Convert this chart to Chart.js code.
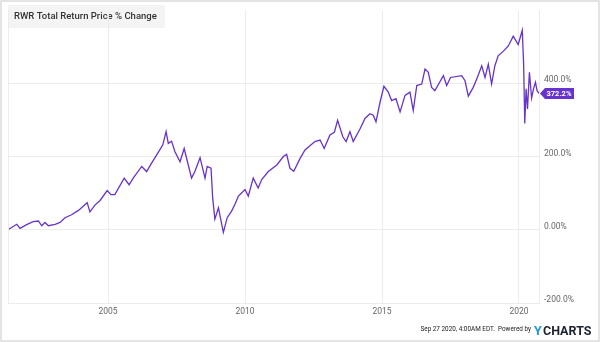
<!DOCTYPE html>
<html lang="en">
<head>
    <meta charset="UTF-8">
    <title>RWR Total Return Price % Change</title>
    <script src="https://cdn.jsdelivr.net/npm/chart.js@4/dist/chart.umd.min.js"></script>
    <style>
        body { margin: 0; background: #fff; }
    </style>
</head>
<body>
    <canvas id="chart" width="600" height="342"></canvas>

<script>
    // dates as decimal years (% change)
    const dates = [
        2001.35, 2001.67, 2001.79, 2002.03, 2002.27, 2002.46, 2002.58, 2002.70, 2002.82, 2003.07,
        2003.25, 2003.43, 2003.67, 2003.92, 2004.24, 2004.34, 2004.53, 2004.71, 2004.97, 2005.11,
        2005.25, 2005.59, 2005.77, 2005.92, 2006.23, 2006.41, 2006.59, 2006.84, 2007.00, 2007.12,
        2007.20, 2007.32, 2007.44, 2007.63, 2007.78, 2007.93, 2008.05, 2008.17, 2008.36, 2008.54,
        2008.62, 2008.76, 2008.82, 2008.90, 2009.03, 2009.21, 2009.35, 2009.51, 2009.63, 2009.76,
        2010.00, 2010.12, 2010.30, 2010.48, 2010.61, 2010.85, 2011.16, 2011.40, 2011.52, 2011.64,
        2011.78, 2012.01, 2012.19, 2012.55, 2012.74, 2012.89, 2013.10, 2013.26, 2013.38, 2013.57,
        2013.69, 2013.83, 2013.95, 2014.20, 2014.38, 2014.56, 2014.68, 2014.78, 2014.93, 2015.07,
        2015.23, 2015.35, 2015.51, 2015.66, 2015.84, 2016.02, 2016.14, 2016.27, 2016.45, 2016.57,
        2016.69, 2016.81, 2016.93, 2017.12, 2017.24, 2017.36, 2017.50, 2017.91, 2018.03, 2018.15,
        2018.33, 2018.48, 2018.64, 2018.76, 2018.88, 2019.00, 2019.12, 2019.24, 2019.43, 2019.61,
        2019.79, 2019.97, 2020.12, 2020.17, 2020.21, 2020.26, 2020.31, 2020.38, 2020.46, 2020.53,
        2020.60, 2020.66, 2020.73
    ];
    const pctChange = [
        0, 15, 4, 14, 22, 24, 11, 20, 11, 15,
        20, 33, 41, 53, 74, 49, 68, 80, 107, 96,
        96, 141, 123, 141, 173, 159, 182, 212, 232, 268,
        236, 242, 214, 186, 222, 177, 141, 159, 197, 141,
        173, 168, 87, 29, 60, -7, 33, 51, 69, 92,
        110, 92, 141, 114, 137, 159, 177, 200, 206, 168,
        160, 195, 218, 241, 245, 222, 259, 266, 299, 254,
        241, 268, 241, 276, 304, 317, 313, 295, 349, 392,
        376, 353, 358, 322, 367, 376, 326, 394, 398, 439,
        430, 389, 380, 405, 421, 394, 416, 421, 407, 365,
        389, 416, 448, 416, 452, 398, 448, 475, 488, 502,
        529, 506, 545, 450, 290, 385, 330, 430, 360, 385,
        403, 380, 372.2
    ];
    const xTicks = [2005, 2010, 2015, 2020];
    const yTicks = [-200, 0, 200, 400, 600];
    const yTickLabels = ['-200.0%', '0.00%', '200.0%', '400.0%', ''];

    const purple = '#6633cc';
    const gridColor = '#ececec';

    const decor = {
        id: 'decor',
        beforeDraw(chart) {
            const ctx = chart.ctx;
            ctx.save();
            ctx.fillStyle = '#fff';
            ctx.fillRect(0, 0, 600, 342);
            // outer frame
            ctx.strokeStyle = '#dcdcdc';
            ctx.lineWidth = 1.5;
            ctx.strokeRect(1, 1, 598, 340);
            // title box
            ctx.fillStyle = '#f4f4f4';
            ctx.fillRect(8, 5, 157, 23);
            ctx.fillStyle = '#333';
            ctx.font = '500 9.5px Roboto';
            ctx.textBaseline = 'middle';
            ctx.fillText('RWR Total Return Price % Change', 14, 17);
            ctx.restore();
        },
        afterDraw(chart) {
            const ctx = chart.ctx;
            const area = chart.chartArea;
            ctx.save();
            // left border of plot
            ctx.strokeStyle = gridColor;
            ctx.lineWidth = 1;
            ctx.beginPath();
            ctx.moveTo(area.left + 0.5, area.top);
            ctx.lineTo(area.left + 0.5, area.bottom);
            ctx.stroke();

            // last value badge
            const last = pctChange[pctChange.length - 1];
            const y = chart.scales.y.getPixelForValue(last);
            const x0 = area.right + 1;
            ctx.fillStyle = purple;
            ctx.beginPath();
            ctx.moveTo(x0, y);
            ctx.lineTo(x0 + 5, y - 5.5);
            ctx.lineTo(574, y - 5.5);
            ctx.lineTo(574, y + 5.5);
            ctx.lineTo(x0 + 5, y + 5.5);
            ctx.closePath();
            ctx.fill();
            ctx.fillStyle = '#fff';
            ctx.font = 'bold 7.5px Roboto';
            ctx.textBaseline = 'middle';
            ctx.fillText(last.toFixed(1) + '%', x0 + 6.5, y + 0.5);

            // footer (narrow text, squeezed horizontally)
            ctx.save();
            ctx.translate(531, 331);
            ctx.scale(0.85, 1);
            ctx.fillStyle = '#222';
            ctx.font = '7.5px Roboto';
            ctx.textBaseline = 'alphabetic';
            ctx.textAlign = 'right';
            ctx.fillText('Sep 27 2020, 4:00AM EDT.  Powered by', 0, 0);
            ctx.restore();
            ctx.textAlign = 'left';
            ctx.font = 'bold 12.5px Roboto';
            ctx.fillStyle = '#1a9ad6';
            ctx.fillText('Y', 534, 332);
            ctx.fillStyle = '#1c2230';
            ctx.fillText('CHARTS', 543, 332);
            ctx.restore();
        }
    };

    const ctx = document.getElementById('chart').getContext('2d');
    const myChart = new Chart(ctx, {
        type: 'line',
        data: {
            datasets: [{
                label: 'RWR Total Return Price % Change',
                data: dates.map((d, i) => ({ x: d, y: pctChange[i] })),
                borderColor: purple,
                borderWidth: 1.3,
                pointRadius: 0,
                tension: 0,
                fill: false
            }]
        },
        options: {
            responsive: false,
            animation: false,
            layout: { padding: { left: 8, top: 7, right: 0, bottom: 0 } },
            plugins: {
                legend: { display: false },
                tooltip: { enabled: false }
            },
            scales: {
                x: {
                    type: 'linear',
                    min: 2001.35,
                    max: 2020.73,
                    afterBuildTicks: scale => { scale.ticks = xTicks.map(v => ({ value: v })); },
                    afterFit: scale => { scale.height = 39; },
                    grid: { color: gridColor, drawTicks: false },
                    border: { color: gridColor },
                    ticks: {
                        padding: 4,
                        color: '#666',
                        font: { family: 'Roboto', size: 8.5 },
                        maxRotation: 0,
                        callback: v => String(v)
                    }
                },
                y: {
                    position: 'right',
                    min: -200,
                    max: 600,
                    afterBuildTicks: scale => { scale.ticks = yTicks.map(v => ({ value: v })); },
                    afterFit: scale => { scale.width = 61; },
                    grid: {
                        drawTicks: false,
                        color: c => (c.tick && c.tick.value === 600) ? 'rgba(0,0,0,0)' : gridColor
                    },
                    border: { color: gridColor },
                    ticks: {
                        padding: 5,
                        labelOffset: -3,
                        color: '#666',
                        font: { family: 'Roboto', size: 8.5 },
                        callback: v => yTickLabels[yTicks.indexOf(v)]
                    }
                }
            }
        },
        plugins: [decor]
    });
</script>
</body>
</html>
